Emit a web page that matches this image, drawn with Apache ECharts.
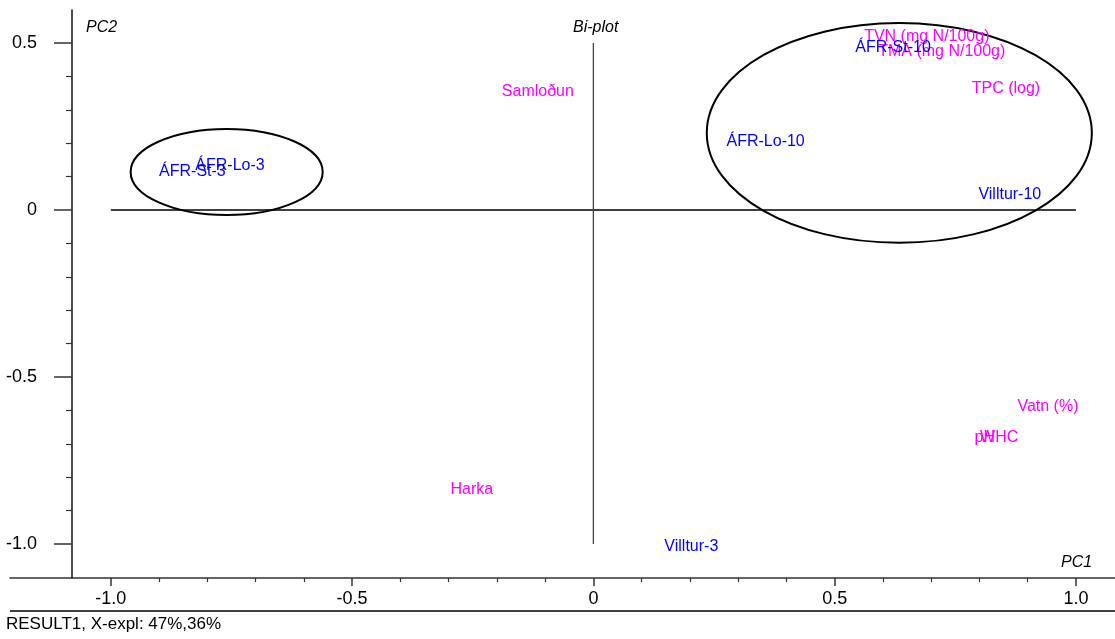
<!DOCTYPE html>
<html>
<head>
<meta charset="utf-8">
<script src="https://cdn.jsdelivr.net/npm/echarts@6/dist/echarts.min.js"></script>
<style>
  html, body { margin: 0; padding: 0; background: #fff; }
  #chart { width: 1115px; height: 639px; }
</style>
</head>
<body>
<div id="chart"></div>
<script>
// PCA bi-plot: scores (samples) and loadings (variables) on PC1 / PC2
const pc1Ticks = [-1, -0.5, 0, 0.5, 1];
const pc1Minor = [-0.9, -0.8, -0.7, -0.6, -0.4, -0.3, -0.2, -0.1, 0.1, 0.2, 0.3, 0.4, 0.6, 0.7, 0.8, 0.9];
const pc2Ticks = [-1, -0.5, 0, 0.5];
const pc2Minor = [-0.9, -0.8, -0.7, -0.6, -0.4, -0.3, -0.2, -0.1, 0.1, 0.2, 0.3, 0.4];

// samples (scores)
const sampleNames = ['ÁFR-St-10', 'ÁFR-Lo-10', 'Villtur-10', 'ÁFR-St-3', 'ÁFR-Lo-3', 'Villtur-3'];
const samplePC1 = [0.621, 0.357, 0.863, -0.831, -0.753, 0.203];
const samplePC2 = [0.485, 0.204, 0.045, 0.114, 0.132, -1.009];

// variables (loadings)
const varNames = ['TVN (mg N/100g)', 'TMA (mg N/100g)', 'TPC (log)', 'Samloðun', 'Vatn (%)', 'pH', 'WHC', 'Harka'];
const varPC1 = [0.691, 0.722, 0.855, -0.115, 0.942, 0.811, 0.841, -0.252];
const varPC2 = [0.518, 0.473, 0.365, 0.356, -0.590, -0.683, -0.683, -0.838];

// group outlines (centre and semi-axes in PC units)
const groupCenterPC1 = [-0.760, 0.634];
const groupCenterPC2 = [0.114, 0.231];
const groupRadiusPC1 = [0.199, 0.399];
const groupRadiusPC2 = [0.129, 0.329];

// reference cross through the origin
const crossH = [[-1, 0], [1, 0]];
const crossV = [[0, 0.5], [0, -1]];

const FONT = '"Liberation Sans", Arial, sans-serif';
const X_MIN = -1.209, X_MAX = 1.081;
const Y_MIN = -1.102, Y_MAX = 0.599;
const gridBox = { left: 10, right: 0, top: 10, bottom: 61 };

const fmt = v => (Math.abs(v) < 1e-9 ? '0' : v.toFixed(1));

const chart = echarts.init(document.getElementById('chart'), null, { renderer: 'canvas' });

const sampleData = sampleNames.map((n, i) => ({ name: n, value: [samplePC1[i], samplePC2[i]] }));
const varData = varNames.map((n, i) => ({ name: n, value: [varPC1[i], varPC2[i]] }));
const groupData = groupCenterPC1.map((c, i) => [c, groupCenterPC2[i], groupRadiusPC1[i], groupRadiusPC2[i]]);

function labelSeries(data, color) {
  return {
    type: 'scatter',
    data: data,
    symbolSize: 1,
    itemStyle: { color: 'rgba(0,0,0,0)', opacity: 1 },
    label: {
      show: true,
      position: 'inside',
      offset: [0, 1.5],
      formatter: p => p.name,
      color: color,
      fontFamily: FONT,
      fontSize: 16
    },
    labelLayout: { hideOverlap: false },
    emphasis: { disabled: true },
    silent: true,
    z: 5
  };
}

chart.setOption({
  animation: false,
  backgroundColor: '#fff',
  grid: [
    Object.assign({}, gridBox),
    Object.assign({}, gridBox)
  ],
  xAxis: [
    {
      type: 'value', gridIndex: 0, min: X_MIN, max: X_MAX, position: 'bottom',
      axisLine: { show: true, onZero: false, lineStyle: { color: '#333', width: 1.5 } },
      axisTick: { show: true, customValues: pc1Ticks, length: 8, lineStyle: { color: '#333', width: 1.5 } },
      axisLabel: { show: true, customValues: pc1Ticks, formatter: fmt, margin: 12, color: '#000', fontFamily: FONT, fontSize: 18 },
      splitLine: { show: false }
    },
    {
      type: 'value', gridIndex: 1, min: X_MIN, max: X_MAX, position: 'bottom',
      axisLine: { show: false, onZero: false },
      axisTick: { show: true, customValues: pc1Minor, length: 4, lineStyle: { color: '#333', width: 1.2 } },
      axisLabel: { show: false },
      splitLine: { show: false }
    }
  ],
  yAxis: [
    {
      type: 'value', gridIndex: 0, min: Y_MIN, max: Y_MAX, position: 'left', offset: -62,
      axisLine: { show: true, onZero: false, lineStyle: { color: '#111', width: 1.5 } },
      axisTick: { show: true, customValues: pc2Ticks, length: 18, lineStyle: { color: '#333', width: 1.5 } },
      axisLabel: { show: true, customValues: pc2Ticks, formatter: fmt, margin: 35, color: '#000', fontFamily: FONT, fontSize: 18 },
      splitLine: { show: false }
    },
    {
      type: 'value', gridIndex: 1, min: Y_MIN, max: Y_MAX, position: 'left', offset: -62,
      axisLine: { show: false, onZero: false },
      axisTick: { show: true, customValues: pc2Minor, length: 6, lineStyle: { color: '#333', width: 1.2 } },
      axisLabel: { show: false },
      splitLine: { show: false }
    }
  ],
  series: [
    {
      type: 'line', data: crossH, symbol: 'none', silent: true,
      lineStyle: { color: '#000', width: 1.3 }, z: 2
    },
    {
      type: 'line', data: crossV, symbol: 'none', silent: true,
      lineStyle: { color: '#444', width: 1.3 }, z: 2
    },
    {
      type: 'custom',
      data: groupData,
      silent: true,
      z: 3,
      renderItem: function (params, api) {
        const c = api.coord([api.value(0), api.value(1)]);
        const s = api.size([api.value(2), api.value(3)]);
        return {
          type: 'ellipse',
          shape: { cx: c[0], cy: c[1], rx: s[0], ry: s[1] },
          style: { fill: 'none', stroke: '#000', lineWidth: 2 }
        };
      }
    },
    labelSeries(varData, '#ff00ff'),
    labelSeries(sampleData, '#0000ff')
  ],
  graphic: [
    {
      type: 'text', left: 86, top: 20,
      style: { text: 'PC2', fontFamily: FONT, fontSize: 16, fontStyle: 'italic', fill: '#000' }
    },
    {
      type: 'text', left: 573, top: 20,
      style: { text: 'Bi-plot', fontFamily: FONT, fontSize: 16, fontStyle: 'italic', fill: '#000' }
    },
    {
      type: 'text', left: 1061, top: 555,
      style: { text: 'PC1', fontFamily: FONT, fontSize: 16, fontStyle: 'italic', fill: '#000' }
    },
    {
      type: 'line',
      shape: { x1: 10, y1: 611, x2: 1115, y2: 611 },
      style: { stroke: '#000', lineWidth: 1.5 }
    },
    {
      type: 'text', left: 6, top: 616,
      style: { text: 'RESULT1, X-expl: 47%,36%', fontFamily: FONT, fontSize: 17, fill: '#000' }
    }
  ]
});
</script>
</body>
</html>
